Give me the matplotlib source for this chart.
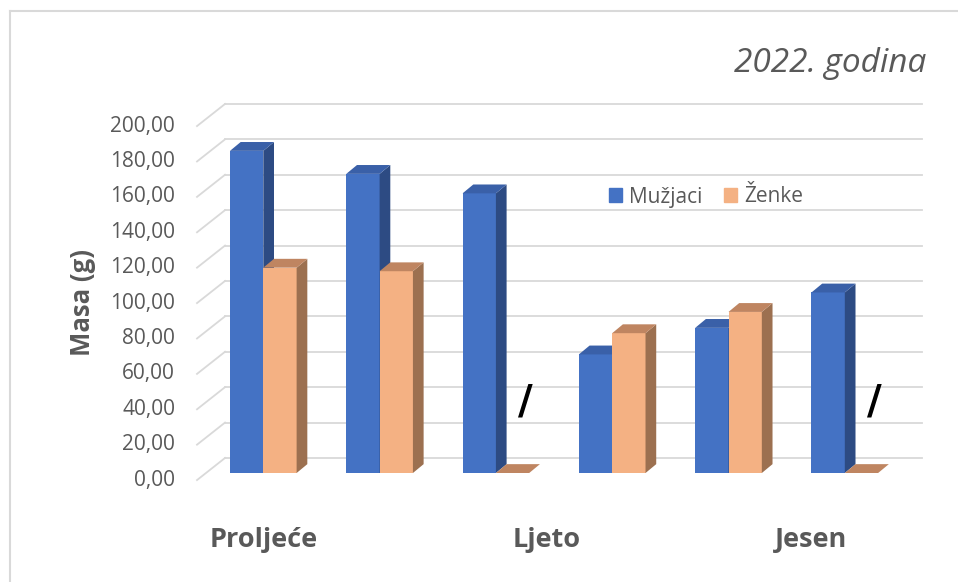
import matplotlib
matplotlib.use('Agg')
from matplotlib import pyplot as plt
from matplotlib.patches import Patch
from matplotlib.lines import Line2D

plt.rcParams['font.family'] = ['Open Sans', 'DejaVu Sans']

# data
seasons = ['Proljeće', 'Ljeto', 'Jesen']
season_pos = [0.0, 2.44, 4.71]          # where each season label sits (group units)
muzjaci = [182, 169, 158, 67, 82, 102]
zenke = [116, 114, 0, 79, 91, 0]
y_ticks = list(range(0, 201, 20))

blue = ('#4472C4', '#2D4B83', '#3A60A8')      # front, side, top
orange = ('#F4B183', '#9C7050', '#BF8561')
grid_c = '#D9D9D9'
text_c = '#595959'

fig = plt.figure(figsize=(9.58, 5.82), dpi=100)
ax = fig.add_axes([0, 0, 1, 1])
ax.axis('off')
# one group = 116.3 px, one unit of mass = 1.77 px
ax.set_xlim(-263.3 / 116.3, (958 - 263.3) / 116.3)
ax.set_ylim((473 - 582) / 1.77, 473 / 1.77)

# chart frame (left and top edges only are in view)
fig.add_artist(Line2D([10 / 958, 10 / 958], [0, 1 - 11 / 582], color=grid_c, lw=1.5))
fig.add_artist(Line2D([10 / 958, 1], [1 - 11 / 582, 1 - 11 / 582], color=grid_c, lw=1.5))

# back wall gridlines + floor diagonals
front_x, back_x, right_x = -0.570, -0.329, 5.664
front_off, back_off = -4.0, 8.5
for g in y_ticks:
    ax.plot([back_x, right_x], [g + back_off, g + back_off], color=grid_c, lw=1.3, zorder=1)
    ax.plot([front_x, back_x], [g + front_off, g + back_off], color=grid_c, lw=1.3, zorder=1)
    ax.text(-0.759, g + front_off, f'{g:.2f}'.replace('.', ','), ha='right', va='center',
            fontsize=15, color=text_c)

w = 0.2865
dx, dy = 0.092, 5.0


def bar3d(xc, v, cols):
    x0, x1 = xc - w / 2, xc + w / 2
    ax.fill([x0, x1, x1, x0], [0, 0, v, v], color=cols[0], lw=0, zorder=3)
    ax.fill([x1, x1 + dx, x1 + dx, x1], [0, dy, v + dy, v], color=cols[1], lw=0, zorder=3)
    ax.fill([x0, x1, x1 + dx, x0 + dx], [v, v, v + dy, v + dy], color=cols[2], lw=0, zorder=3)


for i, (m, z) in enumerate(zip(muzjaci, zenke)):
    bar3d(i - w / 2, m, blue)
    bar3d(i + w / 2, z, orange)
    if z == 0:
        ax.text(i + w / 2 + 0.11, 40, '/', ha='center', va='center', fontsize=29,
                fontweight='bold', color='black', family='DejaVu Sans', zorder=4)

for lab, p in zip(seasons, season_pos):
    ax.text(p, -37.9, lab, ha='center', va='center', fontsize=19.5, fontweight='bold', color=text_c)

fig.text(926 / 958, 1 - 64 / 582, '2022. godina', ha='right', va='center', fontsize=24,
         style='italic', color=text_c)
fig.text(83 / 958, 1 - 302 / 582, 'Masa (g)', ha='center', va='center', rotation=90,
         fontsize=18.5, fontweight='bold', color=text_c)

handles = [Patch(color=blue[0], label='Mužjaci'), Patch(color=orange[0], label='Ženke')]
leg = ax.legend(handles=handles, loc='center', bbox_to_anchor=(706 / 958, 1 - 197 / 582),
                ncol=2, frameon=False, fontsize=15, handlelength=0.65, handleheight=0.65,
                handletextpad=0.35, columnspacing=1.0)
for t in leg.get_texts():
    t.set_color(text_c)

fig.savefig('out.png', dpi=100)
